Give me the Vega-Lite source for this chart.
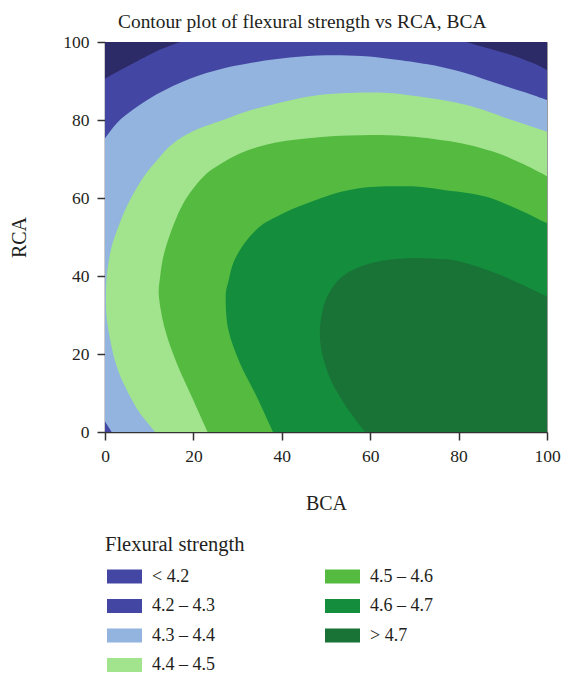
{
  "$schema": "https://vega.github.io/schema/vega-lite/v6.json",
  "width": 442,
  "height": 390,
  "autosize": "none",
  "padding": {"left": 105, "top": 42, "right": 15, "bottom": 241},
  "background": "white",
  "title": {
    "text": "Contour plot of flexural strength vs RCA, BCA",
    "anchor": "start",
    "frame": "group",
    "dx": 13,
    "offset": -14,
    "baseline": "alphabetic",
    "font": "Liberation Serif",
    "fontSize": 19.4,
    "fontWeight": "normal",
    "color": "#231f20"
  },
  "config": {
    "view": {"stroke": "#9a9a9a", "strokeWidth": 1},
    "axis": {
      "grid": false,
      "domainColor": "#333333",
      "domainWidth": 1.5,
      "tickColor": "#333333",
      "tickWidth": 1.5,
      "tickSize": 8,
      "labelFont": "Liberation Serif",
      "labelFontSize": 17.5,
      "labelColor": "#231f20",
      "titleFont": "Liberation Serif",
      "titleFontSize": 20,
      "titleFontWeight": "normal",
      "titleColor": "#231f20"
    }
  },
  "data": {
    "values": [
      {"lv": "< 4.2", "i": 1, "x": 0, "y": 0},
      {"lv": "< 4.2", "i": 2, "x": 100, "y": 0},
      {"lv": "< 4.2", "i": 3, "x": 100, "y": 100},
      {"lv": "< 4.2", "i": 4, "x": 0, "y": 100},

      {"lv": "4.2 – 4.3", "i": 1, "x": -5, "y": -5},
      {"lv": "4.2 – 4.3", "i": 2, "x": 50, "y": -5},
      {"lv": "4.2 – 4.3", "i": 3, "x": 105, "y": -5},
      {"lv": "4.2 – 4.3", "i": 4, "x": 105, "y": 45},
      {"lv": "4.2 – 4.3", "i": 5, "x": 105, "y": 75},
      {"lv": "4.2 – 4.3", "i": 6, "x": 105, "y": 89.8},
      {"lv": "4.2 – 4.3", "i": 7, "x": 102.5, "y": 91.3},
      {"lv": "4.2 – 4.3", "i": 8, "x": 100, "y": 92.8},
      {"lv": "4.2 – 4.3", "i": 9, "x": 97.5, "y": 94.3},
      {"lv": "4.2 – 4.3", "i": 10, "x": 95, "y": 95.4},
      {"lv": "4.2 – 4.3", "i": 11, "x": 91.2, "y": 96.9},
      {"lv": "4.2 – 4.3", "i": 12, "x": 86, "y": 98.6},
      {"lv": "4.2 – 4.3", "i": 13, "x": 81.6, "y": 100},
      {"lv": "4.2 – 4.3", "i": 14, "x": 77.2, "y": 101.4},
      {"lv": "4.2 – 4.3", "i": 15, "x": 72.8, "y": 102.8},
      {"lv": "4.2 – 4.3", "i": 16, "x": 60, "y": 104},
      {"lv": "4.2 – 4.3", "i": 17, "x": 40, "y": 104},
      {"lv": "4.2 – 4.3", "i": 18, "x": 27, "y": 103},
      {"lv": "4.2 – 4.3", "i": 19, "x": 22, "y": 102},
      {"lv": "4.2 – 4.3", "i": 20, "x": 19.5, "y": 101},
      {"lv": "4.2 – 4.3", "i": 21, "x": 17, "y": 100},
      {"lv": "4.2 – 4.3", "i": 22, "x": 14.5, "y": 99},
      {"lv": "4.2 – 4.3", "i": 23, "x": 12, "y": 97.8},
      {"lv": "4.2 – 4.3", "i": 24, "x": 7.5, "y": 95.2},
      {"lv": "4.2 – 4.3", "i": 25, "x": 3.5, "y": 92.8},
      {"lv": "4.2 – 4.3", "i": 26, "x": 0, "y": 90.6},
      {"lv": "4.2 – 4.3", "i": 27, "x": -3.5, "y": 88.4},
      {"lv": "4.2 – 4.3", "i": 28, "x": -7, "y": 86.2},
      {"lv": "4.2 – 4.3", "i": 29, "x": -7, "y": 60},
      {"lv": "4.2 – 4.3", "i": 30, "x": -6, "y": 25},

      {"lv": "4.3 – 4.4", "i": 1, "x": -1.5, "y": 5.4},
      {"lv": "4.3 – 4.4", "i": 2, "x": 0, "y": 2.7},
      {"lv": "4.3 – 4.4", "i": 3, "x": 1.5, "y": 0},
      {"lv": "4.3 – 4.4", "i": 4, "x": 3, "y": -2.7},
      {"lv": "4.3 – 4.4", "i": 5, "x": 6, "y": -5},
      {"lv": "4.3 – 4.4", "i": 6, "x": 30, "y": -6},
      {"lv": "4.3 – 4.4", "i": 7, "x": 70, "y": -6},
      {"lv": "4.3 – 4.4", "i": 8, "x": 105, "y": -6},
      {"lv": "4.3 – 4.4", "i": 9, "x": 106, "y": 40},
      {"lv": "4.3 – 4.4", "i": 10, "x": 106, "y": 70},
      {"lv": "4.3 – 4.4", "i": 11, "x": 105, "y": 83.1},
      {"lv": "4.3 – 4.4", "i": 12, "x": 102.5, "y": 84.1},
      {"lv": "4.3 – 4.4", "i": 13, "x": 100, "y": 85.1},
      {"lv": "4.3 – 4.4", "i": 14, "x": 95, "y": 87.1},
      {"lv": "4.3 – 4.4", "i": 15, "x": 90, "y": 88.9},
      {"lv": "4.3 – 4.4", "i": 16, "x": 85, "y": 90.8},
      {"lv": "4.3 – 4.4", "i": 17, "x": 79, "y": 92.8},
      {"lv": "4.3 – 4.4", "i": 18, "x": 73, "y": 94.3},
      {"lv": "4.3 – 4.4", "i": 19, "x": 65, "y": 95.6},
      {"lv": "4.3 – 4.4", "i": 20, "x": 58, "y": 96.4},
      {"lv": "4.3 – 4.4", "i": 21, "x": 50, "y": 96.6},
      {"lv": "4.3 – 4.4", "i": 22, "x": 41.8, "y": 96.0},
      {"lv": "4.3 – 4.4", "i": 23, "x": 34.3, "y": 94.9},
      {"lv": "4.3 – 4.4", "i": 24, "x": 26.7, "y": 93.2},
      {"lv": "4.3 – 4.4", "i": 25, "x": 19.2, "y": 90.6},
      {"lv": "4.3 – 4.4", "i": 26, "x": 11.7, "y": 86.6},
      {"lv": "4.3 – 4.4", "i": 27, "x": 5.7, "y": 82.1},
      {"lv": "4.3 – 4.4", "i": 28, "x": 2.6, "y": 79.1},
      {"lv": "4.3 – 4.4", "i": 29, "x": 0, "y": 75.3},
      {"lv": "4.3 – 4.4", "i": 30, "x": -2.6, "y": 71.5},
      {"lv": "4.3 – 4.4", "i": 31, "x": -5.2, "y": 67.7},
      {"lv": "4.3 – 4.4", "i": 32, "x": -5.5, "y": 40},
      {"lv": "4.3 – 4.4", "i": 33, "x": -4.5, "y": 18},
      {"lv": "4.3 – 4.4", "i": 34, "x": -3, "y": 9.5},

      {"lv": "4.4 – 4.5", "i": 1, "x": 14.3, "y": -4.2},
      {"lv": "4.4 – 4.5", "i": 2, "x": 12.8, "y": -2.1},
      {"lv": "4.4 – 4.5", "i": 3, "x": 11.3, "y": 0},
      {"lv": "4.4 – 4.5", "i": 4, "x": 8.8, "y": 3.5},
      {"lv": "4.4 – 4.5", "i": 5, "x": 6.8, "y": 6.8},
      {"lv": "4.4 – 4.5", "i": 6, "x": 3.8, "y": 13.4},
      {"lv": "4.4 – 4.5", "i": 7, "x": 2.2, "y": 18.5},
      {"lv": "4.4 – 4.5", "i": 8, "x": 1.2, "y": 23.5},
      {"lv": "4.4 – 4.5", "i": 9, "x": 0.4, "y": 29},
      {"lv": "4.4 – 4.5", "i": 10, "x": 0.2, "y": 34},
      {"lv": "4.4 – 4.5", "i": 11, "x": 0.4, "y": 40},
      {"lv": "4.4 – 4.5", "i": 12, "x": 1.2, "y": 46},
      {"lv": "4.4 – 4.5", "i": 13, "x": 2.5, "y": 51},
      {"lv": "4.4 – 4.5", "i": 14, "x": 5, "y": 58},
      {"lv": "4.4 – 4.5", "i": 15, "x": 8.5, "y": 65},
      {"lv": "4.4 – 4.5", "i": 16, "x": 12, "y": 70},
      {"lv": "4.4 – 4.5", "i": 17, "x": 15.4, "y": 74},
      {"lv": "4.4 – 4.5", "i": 18, "x": 20, "y": 77.2},
      {"lv": "4.4 – 4.5", "i": 19, "x": 26.7, "y": 80},
      {"lv": "4.4 – 4.5", "i": 20, "x": 32, "y": 82.2},
      {"lv": "4.4 – 4.5", "i": 21, "x": 38, "y": 84},
      {"lv": "4.4 – 4.5", "i": 22, "x": 44, "y": 85.6},
      {"lv": "4.4 – 4.5", "i": 23, "x": 50, "y": 86.6},
      {"lv": "4.4 – 4.5", "i": 24, "x": 57, "y": 87},
      {"lv": "4.4 – 4.5", "i": 25, "x": 64, "y": 86.9},
      {"lv": "4.4 – 4.5", "i": 26, "x": 71, "y": 86},
      {"lv": "4.4 – 4.5", "i": 27, "x": 78.8, "y": 84.6},
      {"lv": "4.4 – 4.5", "i": 28, "x": 85, "y": 82.8},
      {"lv": "4.4 – 4.5", "i": 29, "x": 90, "y": 80.8},
      {"lv": "4.4 – 4.5", "i": 30, "x": 95, "y": 78.9},
      {"lv": "4.4 – 4.5", "i": 31, "x": 100, "y": 77},
      {"lv": "4.4 – 4.5", "i": 32, "x": 102.5, "y": 76},
      {"lv": "4.4 – 4.5", "i": 33, "x": 105, "y": 75.1},
      {"lv": "4.4 – 4.5", "i": 34, "x": 106, "y": 40},
      {"lv": "4.4 – 4.5", "i": 35, "x": 105, "y": -6},
      {"lv": "4.4 – 4.5", "i": 36, "x": 60, "y": -6},
      {"lv": "4.4 – 4.5", "i": 37, "x": 30, "y": -5.5},

      {"lv": "4.5 – 4.6", "i": 1, "x": 26, "y": -7},
      {"lv": "4.5 – 4.6", "i": 2, "x": 24.6, "y": -3.6},
      {"lv": "4.5 – 4.6", "i": 3, "x": 23.2, "y": 0},
      {"lv": "4.5 – 4.6", "i": 4, "x": 19.6, "y": 9.1},
      {"lv": "4.5 – 4.6", "i": 5, "x": 16.2, "y": 17.7},
      {"lv": "4.5 – 4.6", "i": 6, "x": 13.6, "y": 26.2},
      {"lv": "4.5 – 4.6", "i": 7, "x": 12.2, "y": 34.7},
      {"lv": "4.5 – 4.6", "i": 8, "x": 12.5, "y": 40},
      {"lv": "4.5 – 4.6", "i": 9, "x": 13.2, "y": 45},
      {"lv": "4.5 – 4.6", "i": 10, "x": 14.5, "y": 50},
      {"lv": "4.5 – 4.6", "i": 11, "x": 16, "y": 54.5},
      {"lv": "4.5 – 4.6", "i": 12, "x": 17.7, "y": 58.6},
      {"lv": "4.5 – 4.6", "i": 13, "x": 20, "y": 62.5},
      {"lv": "4.5 – 4.6", "i": 14, "x": 23, "y": 66.3},
      {"lv": "4.5 – 4.6", "i": 15, "x": 26.5, "y": 69},
      {"lv": "4.5 – 4.6", "i": 16, "x": 30.5, "y": 71.4},
      {"lv": "4.5 – 4.6", "i": 17, "x": 35, "y": 73.2},
      {"lv": "4.5 – 4.6", "i": 18, "x": 40, "y": 74.5},
      {"lv": "4.5 – 4.6", "i": 19, "x": 46, "y": 75.3},
      {"lv": "4.5 – 4.6", "i": 20, "x": 52, "y": 75.9},
      {"lv": "4.5 – 4.6", "i": 21, "x": 58, "y": 76.1},
      {"lv": "4.5 – 4.6", "i": 22, "x": 64, "y": 76.1},
      {"lv": "4.5 – 4.6", "i": 23, "x": 70, "y": 75.7},
      {"lv": "4.5 – 4.6", "i": 24, "x": 78.8, "y": 74.4},
      {"lv": "4.5 – 4.6", "i": 25, "x": 85, "y": 72.8},
      {"lv": "4.5 – 4.6", "i": 26, "x": 90, "y": 71},
      {"lv": "4.5 – 4.6", "i": 27, "x": 95, "y": 68.5},
      {"lv": "4.5 – 4.6", "i": 28, "x": 100, "y": 65.6},
      {"lv": "4.5 – 4.6", "i": 29, "x": 102.5, "y": 64.2},
      {"lv": "4.5 – 4.6", "i": 30, "x": 105, "y": 62.7},
      {"lv": "4.5 – 4.6", "i": 31, "x": 106, "y": 30},
      {"lv": "4.5 – 4.6", "i": 32, "x": 105, "y": -7},
      {"lv": "4.5 – 4.6", "i": 33, "x": 70, "y": -8},
      {"lv": "4.5 – 4.6", "i": 34, "x": 40, "y": -8},

      {"lv": "4.6 – 4.7", "i": 1, "x": 41, "y": -7},
      {"lv": "4.6 – 4.7", "i": 2, "x": 39.5, "y": -3.6},
      {"lv": "4.6 – 4.7", "i": 3, "x": 38, "y": 0},
      {"lv": "4.6 – 4.7", "i": 4, "x": 34.3, "y": 9.1},
      {"lv": "4.6 – 4.7", "i": 5, "x": 30.5, "y": 17.7},
      {"lv": "4.6 – 4.7", "i": 6, "x": 27.9, "y": 26.2},
      {"lv": "4.6 – 4.7", "i": 7, "x": 27.3, "y": 34.7},
      {"lv": "4.6 – 4.7", "i": 8, "x": 28, "y": 39},
      {"lv": "4.6 – 4.7", "i": 9, "x": 29, "y": 43.3},
      {"lv": "4.6 – 4.7", "i": 10, "x": 31, "y": 47.5},
      {"lv": "4.6 – 4.7", "i": 11, "x": 33.5, "y": 51},
      {"lv": "4.6 – 4.7", "i": 12, "x": 36, "y": 53.5},
      {"lv": "4.6 – 4.7", "i": 13, "x": 38.8, "y": 55.2},
      {"lv": "4.6 – 4.7", "i": 14, "x": 42, "y": 57},
      {"lv": "4.6 – 4.7", "i": 15, "x": 45.6, "y": 58.6},
      {"lv": "4.6 – 4.7", "i": 16, "x": 50.9, "y": 60.8},
      {"lv": "4.6 – 4.7", "i": 17, "x": 55, "y": 62},
      {"lv": "4.6 – 4.7", "i": 18, "x": 60, "y": 62.8},
      {"lv": "4.6 – 4.7", "i": 19, "x": 65, "y": 63},
      {"lv": "4.6 – 4.7", "i": 20, "x": 71.2, "y": 62.9},
      {"lv": "4.6 – 4.7", "i": 21, "x": 77, "y": 62},
      {"lv": "4.6 – 4.7", "i": 22, "x": 82, "y": 61.3},
      {"lv": "4.6 – 4.7", "i": 23, "x": 86.3, "y": 60.3},
      {"lv": "4.6 – 4.7", "i": 24, "x": 90, "y": 58.8},
      {"lv": "4.6 – 4.7", "i": 25, "x": 93.8, "y": 56.9},
      {"lv": "4.6 – 4.7", "i": 26, "x": 97, "y": 55.2},
      {"lv": "4.6 – 4.7", "i": 27, "x": 100, "y": 53.5},
      {"lv": "4.6 – 4.7", "i": 28, "x": 102.5, "y": 52.1},
      {"lv": "4.6 – 4.7", "i": 29, "x": 105, "y": 50.7},
      {"lv": "4.6 – 4.7", "i": 30, "x": 106, "y": 25},
      {"lv": "4.6 – 4.7", "i": 31, "x": 105, "y": -7},
      {"lv": "4.6 – 4.7", "i": 32, "x": 75, "y": -8},
      {"lv": "4.6 – 4.7", "i": 33, "x": 52, "y": -8},

      {"lv": "> 4.7", "i": 1, "x": 62, "y": -5},
      {"lv": "> 4.7", "i": 2, "x": 60.4, "y": -2.5},
      {"lv": "> 4.7", "i": 3, "x": 58.8, "y": 0},
      {"lv": "> 4.7", "i": 4, "x": 55.5, "y": 5},
      {"lv": "> 4.7", "i": 5, "x": 53, "y": 9.3},
      {"lv": "> 4.7", "i": 6, "x": 51, "y": 13.5},
      {"lv": "> 4.7", "i": 7, "x": 49.6, "y": 18},
      {"lv": "> 4.7", "i": 8, "x": 48.8, "y": 22},
      {"lv": "> 4.7", "i": 9, "x": 48.6, "y": 26.2},
      {"lv": "> 4.7", "i": 10, "x": 49.1, "y": 30.5},
      {"lv": "> 4.7", "i": 11, "x": 50, "y": 34},
      {"lv": "> 4.7", "i": 12, "x": 51.6, "y": 37.3},
      {"lv": "> 4.7", "i": 13, "x": 53.5, "y": 39.7},
      {"lv": "> 4.7", "i": 14, "x": 56.1, "y": 41.6},
      {"lv": "> 4.7", "i": 15, "x": 59.5, "y": 43.1},
      {"lv": "> 4.7", "i": 16, "x": 63.7, "y": 44.1},
      {"lv": "> 4.7", "i": 17, "x": 67.5, "y": 44.5},
      {"lv": "> 4.7", "i": 18, "x": 71.2, "y": 44.6},
      {"lv": "> 4.7", "i": 19, "x": 75, "y": 44.4},
      {"lv": "> 4.7", "i": 20, "x": 78.8, "y": 44.1},
      {"lv": "> 4.7", "i": 21, "x": 82.5, "y": 43},
      {"lv": "> 4.7", "i": 22, "x": 86.3, "y": 41.6},
      {"lv": "> 4.7", "i": 23, "x": 90, "y": 40},
      {"lv": "> 4.7", "i": 24, "x": 93.8, "y": 38.1},
      {"lv": "> 4.7", "i": 25, "x": 97, "y": 36.4},
      {"lv": "> 4.7", "i": 26, "x": 100, "y": 34.7},
      {"lv": "> 4.7", "i": 27, "x": 102.5, "y": 33.3},
      {"lv": "> 4.7", "i": 28, "x": 105, "y": 31.9},
      {"lv": "> 4.7", "i": 29, "x": 106, "y": 15},
      {"lv": "> 4.7", "i": 30, "x": 105, "y": -5},
      {"lv": "> 4.7", "i": 31, "x": 88, "y": -6},
      {"lv": "> 4.7", "i": 32, "x": 72, "y": -6}
    ]
  },
  "encoding": {
    "x": {
      "field": "x", "type": "quantitative",
      "scale": {"domain": [0, 100], "nice": false, "zero": false},
      "axis": {"values": [0, 20, 40, 60, 80, 100], "title": "BCA", "labelPadding": 7, "titlePadding": 29, "labelFlush": false}
    },
    "y": {
      "field": "y", "type": "quantitative",
      "scale": {"domain": [0, 100], "nice": false, "zero": false},
      "axis": {"values": [0, 20, 40, 60, 80, 100], "title": "RCA", "labelPadding": 8, "titlePadding": 33, "labelFlush": false}
    },
    "order": {"field": "i", "type": "quantitative"},
    "color": {
      "field": "lv", "type": "nominal",
      "scale": {
        "domain": ["< 4.2", "4.2 – 4.3", "4.3 – 4.4", "4.4 – 4.5", "4.5 – 4.6", "4.6 – 4.7", "> 4.7"],
        "range": ["#4446a3", "#4446a3", "#92b4df", "#a2e48e", "#55bb40", "#148e3d", "#197337"]
      },
      "legend": {
        "title": "Flexural strength",
        "orient": "none",
        "legendX": 0,
        "legendY": 493,
        "columns": 2,
        "padding": 0,
        "symbolType": "M-1,-1H4V1H-1Z",
        "symbolSize": 196,
        "symbolStrokeWidth": 0,
        "labelOffset": 29,
        "rowPadding": 11.5,
        "columnPadding": 108,
        "titlePadding": 12,
        "titleFont": "Liberation Serif",
        "titleFontSize": 20.5,
        "titleFontWeight": "normal",
        "titleColor": "#231f20",
        "labelFont": "Liberation Serif",
        "labelFontSize": 18,
        "labelColor": "#231f20",
        "encode": {
          "symbols": {
            "update": {
              "stroke": {"value": "transparent"},
              "opacity": {"value": 1}
            }
          }
        }
      }
    }
  },
  "layer": [
    {"transform": [{"filter": {"field": "lv", "equal": "< 4.2"}}], "mark": {"type": "line", "filled": true, "interpolate": "linear-closed", "clip": true}, "encoding": {"color": {"value": "#2d2a68"}}},
    {"transform": [{"filter": {"field": "lv", "equal": "4.2 – 4.3"}}], "mark": {"type": "line", "filled": true, "interpolate": "cardinal-closed", "clip": true}},
    {"transform": [{"filter": {"field": "lv", "equal": "4.3 – 4.4"}}], "mark": {"type": "line", "filled": true, "interpolate": "cardinal-closed", "clip": true}},
    {"transform": [{"filter": {"field": "lv", "equal": "4.4 – 4.5"}}], "mark": {"type": "line", "filled": true, "interpolate": "cardinal-closed", "clip": true}},
    {"transform": [{"filter": {"field": "lv", "equal": "4.5 – 4.6"}}], "mark": {"type": "line", "filled": true, "interpolate": "cardinal-closed", "clip": true}},
    {"transform": [{"filter": {"field": "lv", "equal": "4.6 – 4.7"}}], "mark": {"type": "line", "filled": true, "interpolate": "cardinal-closed", "clip": true}},
    {"transform": [{"filter": {"field": "lv", "equal": "> 4.7"}}], "mark": {"type": "line", "filled": true, "interpolate": "cardinal-closed", "clip": true}}
  ]
}
